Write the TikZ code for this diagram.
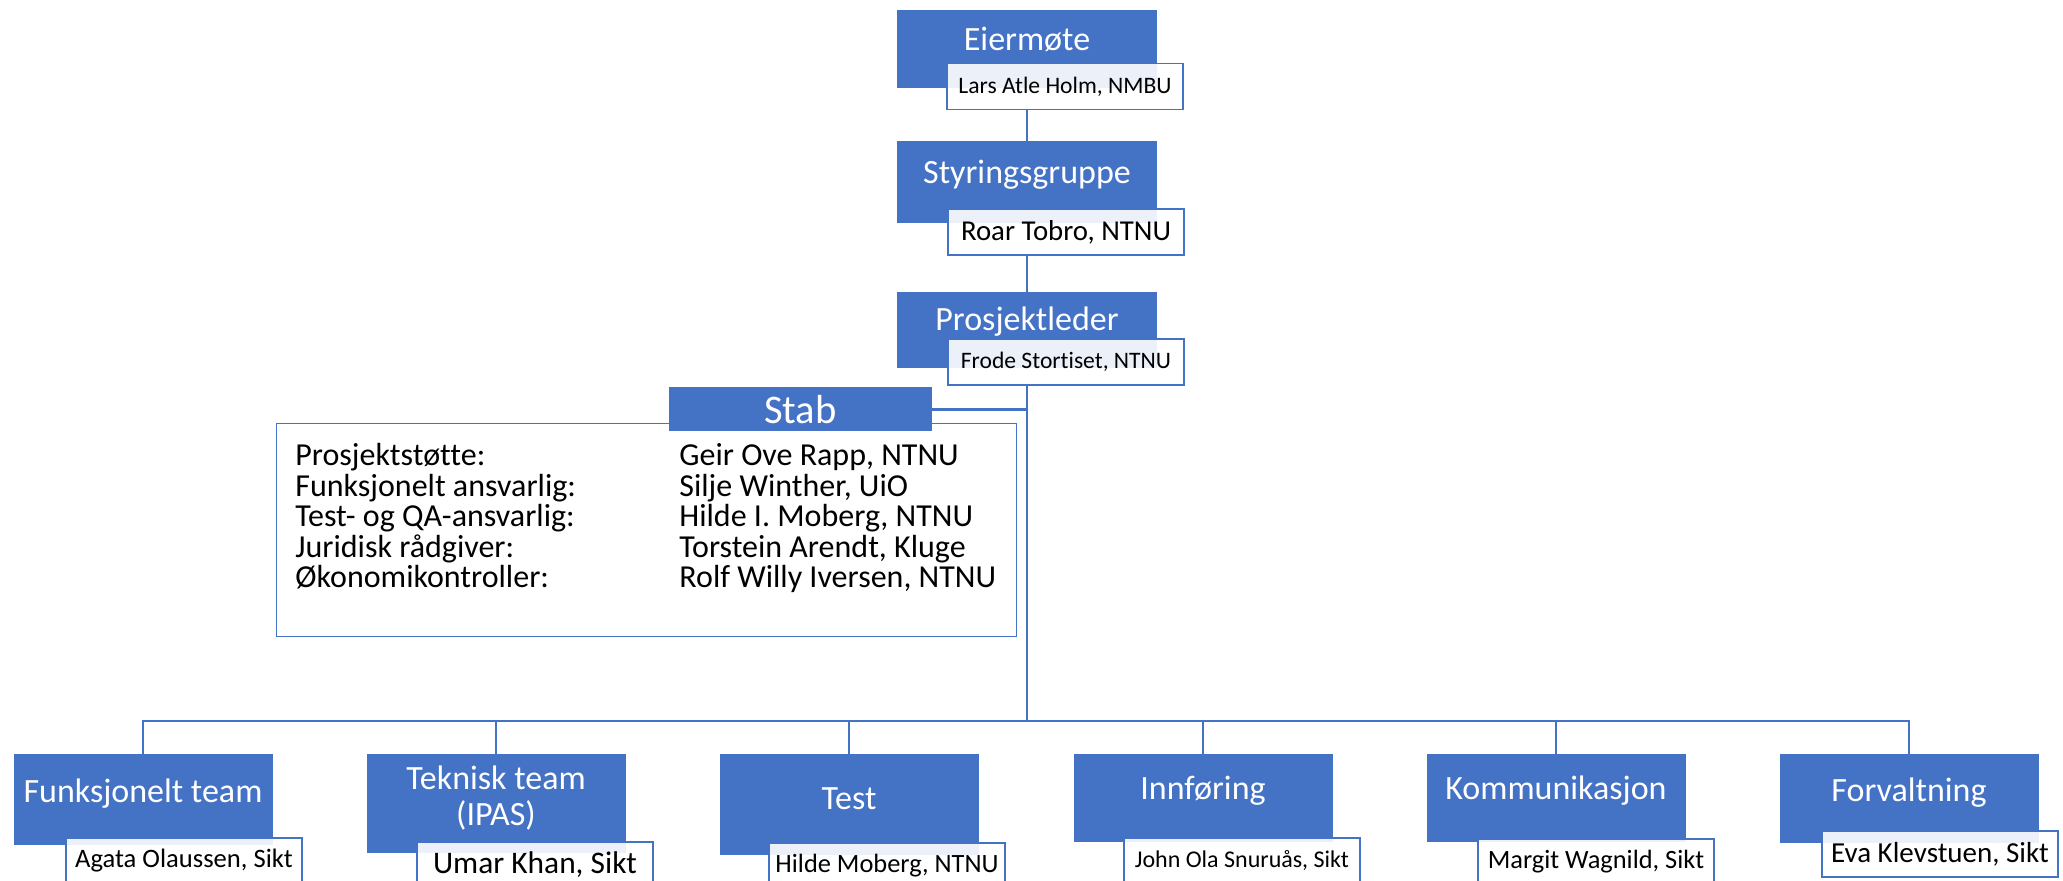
\documentclass[tikz,border=0pt]{standalone}
\usepackage{fontspec}
\setmainfont[Ligatures=NoCommon]{Carlito}
\usetikzlibrary{backgrounds}
\definecolor{ppblue}{HTML}{4472C4}
\tikzset{
  titlebox/.style={fill=ppblue, text=white, font=\fontsize{17}{18}\selectfont,
    minimum width=130pt, inner xsep=0pt, inner ysep=0pt,
    text height=20pt, text depth=19pt, anchor=north},
  teambox/.style={titlebox, minimum width=129.5pt, text height=23.5pt, text depth=21.5pt},
  namebox/.style={draw=ppblue, line width=0.8pt, fill=white, fill opacity=0.9,
    text opacity=1, minimum width=118pt, minimum height=23pt, inner sep=0pt},
  stabtekst/.style={font=\fontsize{16}{17}\selectfont, inner sep=0pt, anchor=base west},
  link/.style={ppblue, line width=1.2pt},
}
\begin{document}
\begin{tikzpicture}[x=0.5pt, y=-0.5pt]
  \clip (0,0) rectangle (2063,881);

  % ledelse
  \node[titlebox] (eier) at (1027,10) {Eiermøte};
  \node[namebox, font=\fontsize{11.8}{12}\selectfont] (eiernavn) at (1065,86.5) {Lars Atle Holm, NMBU};
  \node[titlebox, text height=21pt, text depth=20pt] (styring) at (1027,141) {Styringsgruppe};
  \node[namebox, font=\fontsize{14.4}{15}\selectfont] (styrnavn) at (1066,232) {Roar Tobro, NTNU};
  \node[titlebox, text height=19pt, text depth=19pt] (prosj) at (1027,292) {Prosjektleder};
  \node[namebox, font=\fontsize{11.8}{12}\selectfont] (prosjnavn) at (1066,362) {Frode Stortiset, NTNU};

  % stab
  \node[draw=ppblue, line width=0.7pt, minimum width=370pt, minimum height=106.5pt,
    anchor=north west, inner sep=0pt] (stabramme) at (276,423) {};
  \node[titlebox, minimum width=131.5pt, font=\fontsize{20.3}{22}\selectfont,
    text height=18pt, text depth=4pt] (stab) at (800.5,387) {Stab};
  \foreach \rolle/\navn [count=\i from 0] in {Prosjektstøtte:/{Geir Ove Rapp, NTNU},
      Funksjonelt ansvarlig:/{Silje Winther, UiO}, Test- og QA-ansvarlig:/{Hilde I. Moberg, NTNU},
      Juridisk rådgiver:/{Torstein Arendt, Kluge}, Økonomikontroller:/{Rolf Willy Iversen, NTNU}} {
    \node[stabtekst] (rolle\i) at (295,{466+30.5*\i}) {\rolle};
    \node[stabtekst] (navn\i) at (679,{466+30.5*\i}) {\navn};
  }

  % team
  \coordinate (hub) at (1027,721);
  \node[teambox, text height=24pt] (funk) at (143,754) {Funksjonelt team};
  \node[teambox, align=center, text height=35.5pt, text depth=14pt] (teknisk) at (496,754) {Teknisk team\\(IPAS)};
  \node[teambox, text height=27.5pt, text depth=23pt] (test) at (849,754) {Test};
  \node[teambox, text height=22.5pt] (innf) at (1203,754) {Innføring};
  \node[teambox, text height=22.5pt] (komm) at (1556,754) {Kommunikasjon};
  \node[teambox, text depth=21pt] (forv) at (1909,754) {Forvaltning};
  \node[namebox, font=\fontsize{13.3}{14}\selectfont] (funknavn) at (184,861) {Agata Olaussen, Sikt};
  \node[namebox, font=\fontsize{15.7}{16}\selectfont] (teknavn) at (535,865) {Umar Khan, Sikt};
  \node[namebox, font=\fontsize{13.2}{14}\selectfont] (testnavn) at (887,866) {Hilde Moberg, NTNU};
  \node[namebox, font=\fontsize{12}{13}\selectfont] (innfnavn) at (1242,861) {John Ola Snuruås, Sikt};
  \node[namebox, font=\fontsize{13.2}{14}\selectfont] (kommnavn) at (1596,862) {Margit Wagnild, Sikt};
  \node[namebox, font=\fontsize{14.5}{15}\selectfont] (forvnavn) at (1940,854) {Eva Klevstuen, Sikt};

  % linjer
  \begin{scope}[on background layer]
    \draw[link] (eiernavn.south -| eier.south) -- (styring.north);
    \draw[link] (styrnavn.south -| styring.south) -- (prosj.north);
    \draw[link] (prosjnavn.south -| prosj.south) -- (hub);
    \draw[link] (stab.east) -- (stab.east -| prosj.south);
    \foreach \team in {funk, teknisk, test, innf, komm, forv}
      \draw[link] (hub) -| (\team.north);
  \end{scope}
\end{tikzpicture}
\end{document}
